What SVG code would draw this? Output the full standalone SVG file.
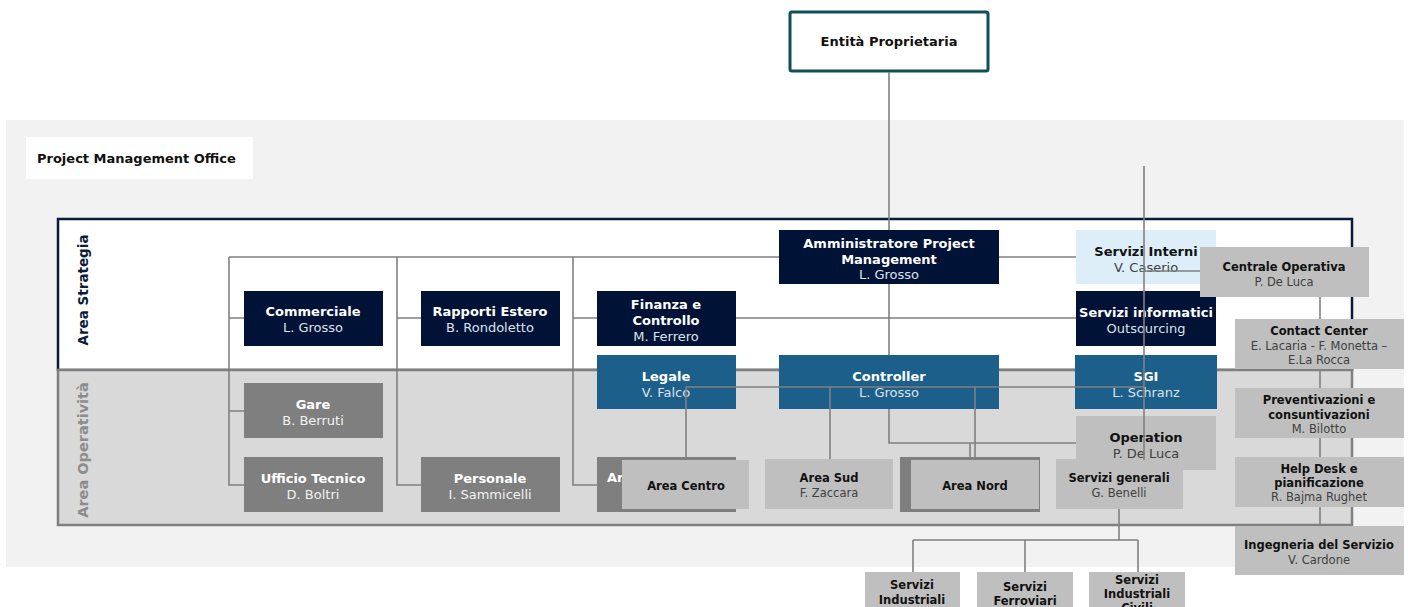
<svg xmlns="http://www.w3.org/2000/svg" width="1408" height="607" viewBox="0 0 1408 607">
<style>
text{font-family:"DejaVu Sans",Verdana,sans-serif;font-size:13px;text-anchor:middle}
.b{font-weight:bold}
.s{font-size:11.5px}
.w{fill:#ffffff}
.lw{fill:#dde3ee}
.k{fill:#111111}
.g{fill:#404040}
.navy{fill:#001235}
.steel{fill:#1b5f8a}
.dg{fill:#7f7f7f}
.lg{fill:#bfbfbf}
.pale{fill:#ddeef9}
.ln{fill:none;stroke:#808080;stroke-width:1.6}
</style>
<rect x="6" y="120" width="1398" height="447" fill="#f2f2f2"/>
<g id="pmo"><rect x="26" y="137" width="227" height="42" fill="#ffffff"/><text x="37" y="163" class="b k" style="text-anchor:start">Project Management Office</text></g>
<g id="area-strategia"><rect x="58" y="219" width="1294" height="151" fill="#ffffff" stroke="#0a1a3a" stroke-width="2.5"/><text transform="translate(88,290) rotate(-90)" class="b" style="font-size:13.5px" fill="#0a1a3a">Area Strategia</text></g>
<g id="area-operativita"><rect x="58" y="370" width="1294" height="155" fill="#d9d9d9" stroke="#808080" stroke-width="2.5"/><text transform="translate(88,450) rotate(-90)" class="b" style="font-size:14.5px" fill="#8c8c8c">Area Operatività</text></g>
<g id="entita"><rect x="790" y="12" width="198" height="59" rx="2" fill="#ffffff" stroke="#0f4f58" stroke-width="3"/><text x="889" y="46" class="b k">Entità Proprietaria</text></g>
<g id="connectors-back">
<path class="ln" d="M889 72V443H1076M229 257H779M999 257H1076M229 257V485H244M229 318H244M229 411H244M397 257V485H421M397 318H421M573 257V485H597M573 318H597M736 318H1076M970 443V457M1320 297V526M1119 509V540M913 540H1138M913 540V572M1025 540V572M1138 540V572"/>
</g>
<g id="commerciale"><rect x="244" y="291" width="139" height="55" class="navy"/><text x="313" y="316" class="b w">Commerciale</text><text x="313" y="332" class="lw">L. Grosso</text></g>
<g id="rapporti-estero"><rect x="421" y="291" width="139" height="55" class="navy"/><text x="490" y="316" class="b w">Rapporti Estero</text><text x="490" y="332" class="lw">B. Rondoletto</text></g>
<g id="finanza"><rect x="597" y="291" width="139" height="55" class="navy"/><text x="666" y="309" class="b w">Finanza e</text><text x="666" y="325" class="b w">Controllo</text><text x="666" y="341" class="lw">M. Ferrero</text></g>
<g id="amministratore"><rect x="779" y="230" width="220" height="54" class="navy"/><text x="889" y="248" class="b w">Amministratore Project</text><text x="889" y="264" class="b w">Management</text><text x="889" y="279" class="lw">L. Grosso</text></g>
<g id="servizi-interni"><rect x="1076" y="230" width="140" height="54" class="pale"/><text x="1146" y="256" class="b k">Servizi Interni</text><text x="1146" y="272" class="g">V. Caserio</text></g>
<g id="servizi-informatici"><rect x="1076" y="291" width="140" height="55" class="navy"/><text x="1146" y="317" class="b w">Servizi informatici</text><text x="1146" y="333" class="lw">Outsourcing</text></g>
<g id="legale"><rect x="597" y="355" width="139" height="54" class="steel"/><text x="666" y="381" class="b w">Legale</text><text x="666" y="397" class="lw">V. Falco</text></g>
<g id="controller"><rect x="779" y="355" width="220" height="54" class="steel"/><text x="889" y="381" class="b w">Controller</text><text x="889" y="397" class="lw">L. Grosso</text></g>
<g id="sgi"><rect x="1075" y="355" width="142" height="54" class="steel"/><text x="1146" y="381" class="b w">SGI</text><text x="1146" y="397" class="lw">L. Schranz</text></g>
<g id="gare"><rect x="244" y="383" width="139" height="55" class="dg"/><text x="313" y="409" class="b w">Gare</text><text x="313" y="425" fill="#f2f2f2">B. Berruti</text></g>
<g id="ufficio-tecnico"><rect x="244" y="457" width="139" height="55" class="dg"/><text x="313" y="483" class="b w">Ufficio Tecnico</text><text x="313" y="499" fill="#f2f2f2">D. Boltri</text></g>
<g id="personale"><rect x="421" y="457" width="139" height="55" class="dg"/><text x="490" y="483" class="b w">Personale</text><text x="490" y="499" fill="#f2f2f2">I. Sammicelli</text></g>
<g id="ar"><rect x="597" y="457" width="139" height="55" class="dg"/><text x="607" y="482" class="b w" style="text-anchor:start">Ar</text></g>
<g id="area-centro"><rect x="622" y="460" width="127" height="49" class="lg"/><text x="686" y="490" class="b k s">Area Centro</text></g>
<g id="area-sud"><rect x="765" y="459" width="128" height="50" class="lg"/><text x="829" y="482" class="b k s">Area Sud</text><text x="829" y="497" class="g s">F. Zaccara</text></g>
<g id="area-nord"><rect x="900" y="457" width="140" height="55" class="dg"/><rect x="911" y="460" width="128" height="49" class="lg"/><text x="975" y="490" class="b k s">Area Nord</text></g>
<g id="operation"><rect x="1076" y="416" width="140" height="54" class="lg"/><text x="1146" y="442" class="b k">Operation</text><text x="1146" y="458" class="g">P. De Luca</text></g>
<g id="servizi-generali"><rect x="1056" y="459" width="127" height="50" class="lg"/><text x="1119" y="482" class="b k s">Servizi generali</text><text x="1119" y="497" class="g s">G. Benelli</text></g>
<g id="connectors-front">
<path class="ln" d="M686 387H1145M1144 166V460M1144 271H1200M686 387V460M830 387V459M975 387V457"/>
</g>
<g id="centrale-operativa"><rect x="1200" y="247" width="169" height="50" class="lg"/><text x="1284" y="271" class="b k s">Centrale Operativa</text><text x="1284" y="286" class="g s">P. De Luca</text></g>
<g id="contact-center"><rect x="1235" y="319" width="169" height="50" class="lg"/><text x="1319" y="335" class="b k s">Contact Center</text><text x="1319" y="350" class="g s">E. Lacaria - F. Monetta –</text><text x="1319" y="364" class="g s">E.La Rocca</text></g>
<g id="preventivazioni"><rect x="1235" y="388" width="169" height="50" class="lg"/><text x="1319" y="404" class="b k s">Preventivazioni e</text><text x="1319" y="419" class="b k s">consuntivazioni</text><text x="1319" y="433" class="g s">M. Bilotto</text></g>
<g id="help-desk"><rect x="1235" y="457" width="169" height="50" class="lg"/><text x="1319" y="473" class="b k s">Help Desk e</text><text x="1319" y="487" class="b k s">pianificazione</text><text x="1319" y="501" class="g s">R. Bajma Rughet</text></g>
<g id="ingegneria"><rect x="1235" y="526" width="169" height="49" class="lg"/><text x="1319" y="549" class="b k s">Ingegneria del Servizio</text><text x="1319" y="564" class="g s">V. Cardone</text></g>
<g id="servizi-industriali"><rect x="865" y="572" width="95" height="40" class="lg"/><text x="912" y="589" class="b k s">Servizi</text><text x="912" y="604" class="b k s">Industriali</text></g>
<g id="servizi-ferroviari"><rect x="977" y="572" width="96" height="40" class="lg"/><text x="1025" y="591" class="b k s">Servizi</text><text x="1025" y="605" class="b k s">Ferroviari</text></g>
<g id="servizi-civili"><rect x="1089" y="572" width="96" height="40" class="lg"/><text x="1137" y="584" class="b k s">Servizi</text><text x="1137" y="598" class="b k s">Industriali</text><text x="1137" y="612" class="b k s">Civili</text></g>
</svg>
